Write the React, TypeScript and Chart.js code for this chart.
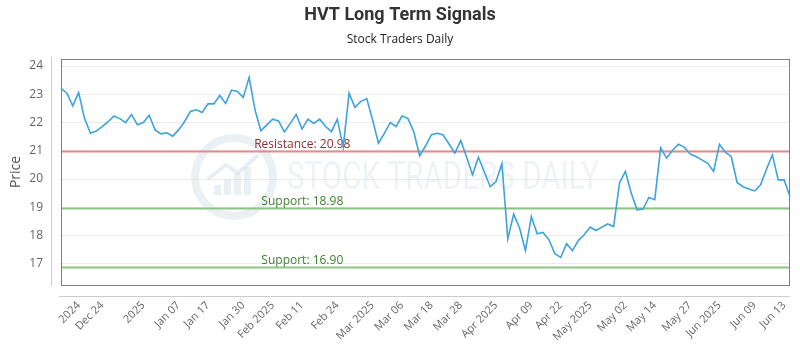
import React, { useEffect, useRef } from "react";
import { Chart, registerables } from "chart.js";

Chart.register(...registerables);

const chartTitle = "HVT Long Term Signals";
const chartSubtitle = "Stock Traders Daily";
const yAxisTitle = "Price";

const prices = [
  23.21, 23.04, 22.59, 23.06, 22.15, 21.62, 21.7, 21.86, 22.03, 22.23,
  22.14, 22.0, 22.29, 21.92, 22.0, 22.26, 21.74, 21.6, 21.64, 21.52,
  21.74, 22.03, 22.39, 22.45, 22.36, 22.66, 22.66, 22.96, 22.68, 23.15,
  23.1, 22.89, 23.6, 22.45, 21.71, 21.92, 22.12, 22.06, 21.67, 21.97,
  22.29, 21.77, 22.12, 21.97, 22.12, 21.86, 21.68, 22.12, 21.13, 23.04,
  22.54, 22.75, 22.85, 22.09, 21.27, 21.62, 22.0, 21.86, 22.23, 22.15,
  21.68, 20.82, 21.17, 21.57, 21.62, 21.56, 21.24, 20.92, 21.36, 20.77,
  20.15, 20.77, 20.26, 19.73, 19.91, 20.54, 17.88, 18.76, 18.27, 17.47,
  18.67, 18.06, 18.11, 17.85, 17.36, 17.23, 17.71, 17.47, 17.83, 18.03,
  18.3, 18.18, 18.3, 18.41, 18.32, 19.86, 20.27, 19.5, 18.91, 18.94,
  19.35, 19.27, 21.11, 20.74, 21.01, 21.23, 21.13, 20.89, 20.8, 20.68,
  20.56, 20.27, 21.23, 20.95, 20.8, 19.88, 19.73, 19.65, 19.58, 19.8,
  20.35, 20.86, 19.97, 19.97, 19.38,
];

const tickLabels = [
  "2024", "Dec 24", "2025", "Jan 07", "Jan 17", "Jan 30", "Feb 2025", "Feb 11",
  "Feb 24", "Mar 2025", "Mar 06", "Mar 18", "Mar 28", "Apr 2025", "Apr 09",
  "Apr 22", "May 2025", "May 02", "May 14", "May 27", "Jun 2025", "Jun 09", "Jun 13",
];
const tickIndices = [
  3, 7, 14, 20, 25, 31, 36, 41, 47, 53, 58, 63, 68, 74, 80, 85, 90, 96, 101, 107, 112, 118, 123,
];

const yTickValues = [17, 18, 19, 20, 21, 22, 23, 24];

const levelValues = [20.98, 18.98, 16.9];
const levelNames = ["Resistance", "Support", "Support"];

const yMin = 16.25;
const yMax = 24.25;

const categoryLabels = prices.map((_, i) => {
  const k = tickIndices.indexOf(i);
  return k >= 0 ? tickLabels[k] : "";
});

const decorPlugin = {
  id: "decor",
  beforeDatasetsDraw(chart: any) {
    const { ctx, chartArea } = chart;
    const { left, right, top, bottom } = chartArea;
    const yScale = chart.scales.y;
    ctx.save();
    ctx.beginPath();
    ctx.rect(left, top, right - left, bottom - top);
    ctx.clip();
    // watermark
    const cx = 234;
    const cy = 177;
    ctx.strokeStyle = "rgba(205,218,230,0.4)";
    ctx.lineWidth = 8;
    ctx.beginPath();
    ctx.arc(cx, cy, 39, 0, Math.PI * 2);
    ctx.stroke();
    ctx.fillStyle = "rgba(205,218,230,0.4)";
    const bars = [10, 16, 22, 28];
    bars.forEach((h, i) => {
      ctx.fillRect(cx - 20 + i * 10, cy + 18 - h, 7, h);
    });
    ctx.strokeStyle = "rgba(205,218,230,0.45)";
    ctx.lineWidth = 4;
    ctx.beginPath();
    ctx.moveTo(cx - 26, cy + 2);
    ctx.lineTo(cx - 8, cy - 12);
    ctx.lineTo(cx + 4, cy - 4);
    ctx.lineTo(cx + 24, cy - 22);
    ctx.stroke();
    ctx.fillStyle = "rgba(190,204,218,0.24)";
    ctx.font = "38px 'Liberation Sans Narrow', 'Roboto', sans-serif";
    ctx.textBaseline = "middle";
    ctx.textAlign = "left";
    const wm = "STOCK TRADERS DAILY";
    const w = ctx.measureText(wm).width;
    ctx.save();
    ctx.translate(287, 179);
    ctx.scale(312 / w, 1);
    ctx.fillText(wm, 0, 0);
    ctx.restore();

    // levels
    levelValues.forEach((v, i) => {
      const y = Math.round(yScale.getPixelForValue(v)) + 0.5;
      const isRes = levelNames[i] === "Resistance";
      ctx.strokeStyle = isRes ? "#e58a8a" : "#8cc583";
      ctx.lineWidth = 2;
      ctx.beginPath();
      ctx.moveTo(left, y);
      ctx.lineTo(right, y);
      ctx.stroke();
      ctx.fillStyle = isRes ? "#8b2f2f" : "#3f7f2f";
      ctx.font = "12px 'Open Sans', sans-serif";
      ctx.textAlign = "center";
      ctx.textBaseline = "alphabetic";
      const lx = left + (right - left) * 0.331;
      ctx.fillText(`${levelNames[i]}: ${v.toFixed(2)}`, lx, y - 4);
    });
    ctx.restore();
  },
  afterDraw(chart: any) {
    const { ctx, chartArea } = chart;
    const { left, right, top, bottom } = chartArea;
    ctx.save();
    ctx.strokeStyle = "#7f7f7f";
    ctx.lineWidth = 1;
    ctx.strokeRect(left + 0.5, top + 0.5, right - left - 1, bottom - top);
    ctx.strokeStyle = "#cccccc";
    ctx.beginPath();
    ctx.moveTo(51.5, top - 2);
    ctx.lineTo(51.5, bottom + 1);
    ctx.stroke();
    ctx.beginPath();
    ctx.moveTo(left - 2, bottom + 11.5);
    ctx.lineTo(right, bottom + 11.5);
    ctx.stroke();
    ctx.textAlign = "center";
    ctx.textBaseline = "middle";
    ctx.fillStyle = "#333333";
    ctx.font = "bold 18px 'Liberation Sans Narrow', 'Roboto', sans-serif";
    ctx.fillText(chartTitle, 400, 15);
    ctx.font = "12px 'Open Sans', sans-serif";
    ctx.fillStyle = "#222222";
    ctx.fillText(chartSubtitle, 400, 40);
    ctx.restore();
  },
};

export default function App() {
  const ref = useRef<HTMLCanvasElement | null>(null);
  useEffect(() => {
    if (!ref.current) return;
    const chart = new Chart(ref.current, {
      type: "line",
      data: {
        labels: categoryLabels,
        datasets: [
          {
            data: prices,
            borderColor: "#3ea3db",
            borderWidth: 1.6,
            pointRadius: 0,
            tension: 0,
            fill: false,
          },
        ],
      },
      options: {
        responsive: false,
        animation: false,
        layout: { padding: { left: 0, right: 10, top: 59, bottom: 0 } },
        plugins: {
          legend: { display: false },
          tooltip: { enabled: false },
          title: { display: false },
        },
        scales: {
          x: {
            type: "category",
            offset: false,
            grid: { display: false, drawTicks: false },
            border: { display: false },
            ticks: {
              autoSkip: false,
              maxRotation: 45,
              minRotation: 45,
              padding: 14,
              color: "#666666",
              font: { family: "'Open Sans', sans-serif", size: 11 },
            },
            afterFit(scale: any) {
              scale.height = 65;
              scale.paddingLeft = 0;
              scale.paddingRight = 0;
            },
          },
          y: {
            min: yMin,
            max: yMax,
            grid: { color: "#ececec", drawTicks: false, lineWidth: 1 },
            border: { display: false },
            afterBuildTicks(scale: any) {
              scale.ticks = yTickValues.map((v) => ({ value: v }));
            },
            ticks: {
              padding: 18,
              color: "#666666",
              font: { family: "'Open Sans', sans-serif", size: 12 },
            },
            title: {
              display: true,
              text: yAxisTitle,
              color: "#555555",
              font: { family: "'Open Sans', sans-serif", size: 14 },
              padding: { top: 8, bottom: 0 },
            },
            afterFit(scale: any) {
              scale.width = 61;
              scale.paddingTop = 0;
              scale.paddingBottom = 0;
            },
          },
        },
      },
      plugins: [decorPlugin],
    });
    return () => chart.destroy();
  }, []);
  return (
    <div style={{ position: "fixed", left: 0, top: 0, width: 800, height: 350, background: "#ffffff" }}>
      <canvas ref={ref} width={800} height={350} style={{ display: "block" }} />
    </div>
  );
}
